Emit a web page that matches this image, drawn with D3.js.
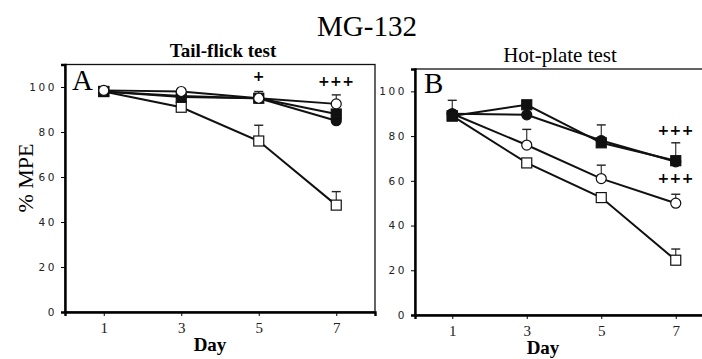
<!DOCTYPE html>
<html>
<head>
<meta charset="utf-8">
<script src="https://cdn.jsdelivr.net/npm/d3@7"></script>
<style>
  body { margin: 0; background: #fff; }
  svg { display: block; }
  .tick text { font-family: "DejaVu Sans", sans-serif; }
</style>
</head>
<body>
<div id="chart"></div>
<script>
// data
var days = [1, 3, 5, 7];
var yTicks = [0, 20, 40, 60, 80, 100];

// panel A, tail-flick test
var tailOpenSquare = [98, 91, 76, 47.5];
var tailOpenSquareErr = [0, 0, 7, 6];
var tailFilledCircle = [98, 96, 95, 85];
var tailFilledCircleErr = [0, 0, 0, 0];
var tailFilledSquare = [98, 95.5, 95, 88];
var tailFilledSquareErr = [0, 0, 0, 0];
var tailOpenCircle = [98.5, 98, 95, 92.5];
var tailOpenCircleErr = [0, 0, 3, 4];
var tailMarks = [["+", 5, 102.5], ["+++", 7, 100.5]];

// panel B, hot-plate test
var hotFilledSquare = [89, 94, 77, 69];
var hotFilledSquareErr = [7, 0, 8, 8];
var hotFilledCircle = [90, 89.5, 78, 68.5];
var hotFilledCircleErr = [0, 0, 0, 0];
var hotOpenCircle = [90, 76, 61, 50];
var hotOpenCircleErr = [0, 7, 6, 4];
var hotOpenSquare = [89, 68, 52.5, 24.5];
var hotOpenSquareErr = [0, 0, 0, 5];
var hotMarks = [["+++", 7, 80.5], ["+++", 7, 59]];

var W = 702, H = 359;

var svg = d3.select("#chart").append("svg")
  .attr("width", W).attr("height", H);

svg.append("rect").attr("width", W).attr("height", H).attr("fill", "#fff");

svg.append("text")
  .attr("x", 367).attr("y", 36)
  .attr("text-anchor", "middle")
  .style("font-family", "Liberation Serif, serif")
  .style("font-size", "29px")
  .text("MG-132");

svg.append("text")
  .attr("transform", "translate(33,178) rotate(-90)")
  .attr("text-anchor", "middle")
  .style("font-family", "Liberation Serif, serif")
  .style("font-size", "22px")
  .text("% MPE");

function drawPanel(cfg) {
  var x = d3.scaleLinear().domain([0, 8]).range(cfg.xRange);
  var y = d3.scaleLinear().domain([0, 110]).range(cfg.yRange);
  var g = svg.append("g");

  // frame
  g.append("rect")
    .attr("x", cfg.xRange[0]).attr("y", cfg.yRange[1])
    .attr("width", cfg.xRange[1] - cfg.xRange[0])
    .attr("height", cfg.yRange[0] - cfg.yRange[1])
    .attr("fill", "none").attr("stroke", "#111").attr("stroke-width", 1.3);

  var yAxis = g.append("g")
    .attr("transform", "translate(" + cfg.xRange[0] + ",0)")
    .call(d3.axisLeft(y).tickValues(yTicks).tickSize(4).tickPadding(4));
  yAxis.select(".domain").attr("stroke-width", 2.4);
  yAxis.selectAll("text")
    .style("font-size", "10.5px")
    .style("letter-spacing", "2.6px")
    .attr("fill", "#222");

  var xAxis = g.append("g")
    .attr("transform", "translate(0," + cfg.yRange[0] + ")")
    .call(d3.axisBottom(x).tickValues(days).tickSize(4).tickPadding(6));
  xAxis.select(".domain").attr("stroke-width", 2.4);
  xAxis.selectAll("text")
    .style("font-family", "Liberation Serif, serif")
    .style("font-size", "15px")
    .attr("fill", "#222");

  g.append("text")
    .attr("x", cfg.dayX).attr("y", cfg.yRange[0] + 39)
    .attr("text-anchor", "middle")
    .style("font-family", "Liberation Serif, serif")
    .style("font-weight", "bold")
    .style("font-size", "19px")
    .text("Day");

  g.append("text")
    .attr("x", cfg.titleX).attr("y", cfg.titleY)
    .attr("text-anchor", "middle")
    .style("font-family", "Liberation Serif, serif")
    .style("font-weight", cfg.titleBold ? "bold" : "normal")
    .style("font-size", cfg.titleSize)
    .text(cfg.title);

  g.append("text")
    .attr("x", cfg.xRange[0] + cfg.letterDx).attr("y", cfg.letterY)
    .style("font-family", "Liberation Serif, serif")
    .style("font-size", "29px")
    .text(cfg.letter);

  var line = d3.line()
    .x(function (d, i) { return x(days[i]); })
    .y(function (d) { return y(d); });

  cfg.series.forEach(function (s) {
    g.append("path").datum(s.values)
      .attr("d", line)
      .attr("fill", "none").attr("stroke", "#111").attr("stroke-width", 2);
  });

  // error bars, upward only
  cfg.series.forEach(function (s) {
    s.errs.forEach(function (e, i) {
      if (!e) return;
      var cx = x(days[i]);
      g.append("line")
        .attr("x1", cx).attr("x2", cx)
        .attr("y1", y(s.values[i])).attr("y2", y(s.values[i] + e))
        .attr("stroke", "#222").attr("stroke-width", 1.1);
      g.append("line")
        .attr("x1", cx - 4.5).attr("x2", cx + 4.5)
        .attr("y1", y(s.values[i] + e)).attr("y2", y(s.values[i] + e))
        .attr("stroke", "#222").attr("stroke-width", 1.4);
    });
  });

  cfg.series.forEach(function (s) {
    s.values.forEach(function (v, i) {
      var cx = x(days[i]), cy = y(v);
      var fill = s.filled ? "#111" : "#fff";
      if (s.shape === "square") {
        g.append("rect")
          .attr("x", cx - 5).attr("y", cy - 5)
          .attr("width", 10).attr("height", 10)
          .attr("fill", fill).attr("stroke", "#111").attr("stroke-width", 1.2);
      } else {
        g.append("circle")
          .attr("cx", cx).attr("cy", cy).attr("r", 5)
          .attr("fill", fill).attr("stroke", "#111").attr("stroke-width", 1.2);
      }
    });
  });

  cfg.marks.forEach(function (m) {
    g.append("text")
      .attr("x", x(m[1])).attr("y", y(m[2]))
      .attr("text-anchor", "middle")
      .style("font-family", "DejaVu Sans, sans-serif")
      .style("font-weight", "bold")
      .style("font-size", "14px")
      .style("letter-spacing", "0.5px")
      .text(m[0]);
  });
}

drawPanel({
  xRange: [65, 375],
  yRange: [312, 64.5],
  title: "Tail-flick test", titleX: 223, titleY: 57, titleBold: true, titleSize: "19px",
  letter: "A", letterDx: 7, letterY: 90, dayX: 210,
  series: [
    {values: tailOpenSquare, errs: tailOpenSquareErr, shape: "square", filled: false},
    {values: tailFilledCircle, errs: tailFilledCircleErr, shape: "circle", filled: true},
    {values: tailFilledSquare, errs: tailFilledSquareErr, shape: "square", filled: true},
    {values: tailOpenCircle, errs: tailOpenCircleErr, shape: "circle", filled: false}
  ],
  marks: tailMarks
});

drawPanel({
  xRange: [415, 713],
  yRange: [315, 69],
  title: "Hot-plate test", titleX: 560, titleY: 62, titleBold: false, titleSize: "21px",
  letter: "B", letterDx: 9, letterY: 93, dayX: 543,
  series: [
    {values: hotOpenSquare, errs: hotOpenSquareErr, shape: "square", filled: false},
    {values: hotOpenCircle, errs: hotOpenCircleErr, shape: "circle", filled: false},
    {values: hotFilledCircle, errs: hotFilledCircleErr, shape: "circle", filled: true},
    {values: hotFilledSquare, errs: hotFilledSquareErr, shape: "square", filled: true}
  ],
  marks: hotMarks
});
</script>
</body>
</html>
